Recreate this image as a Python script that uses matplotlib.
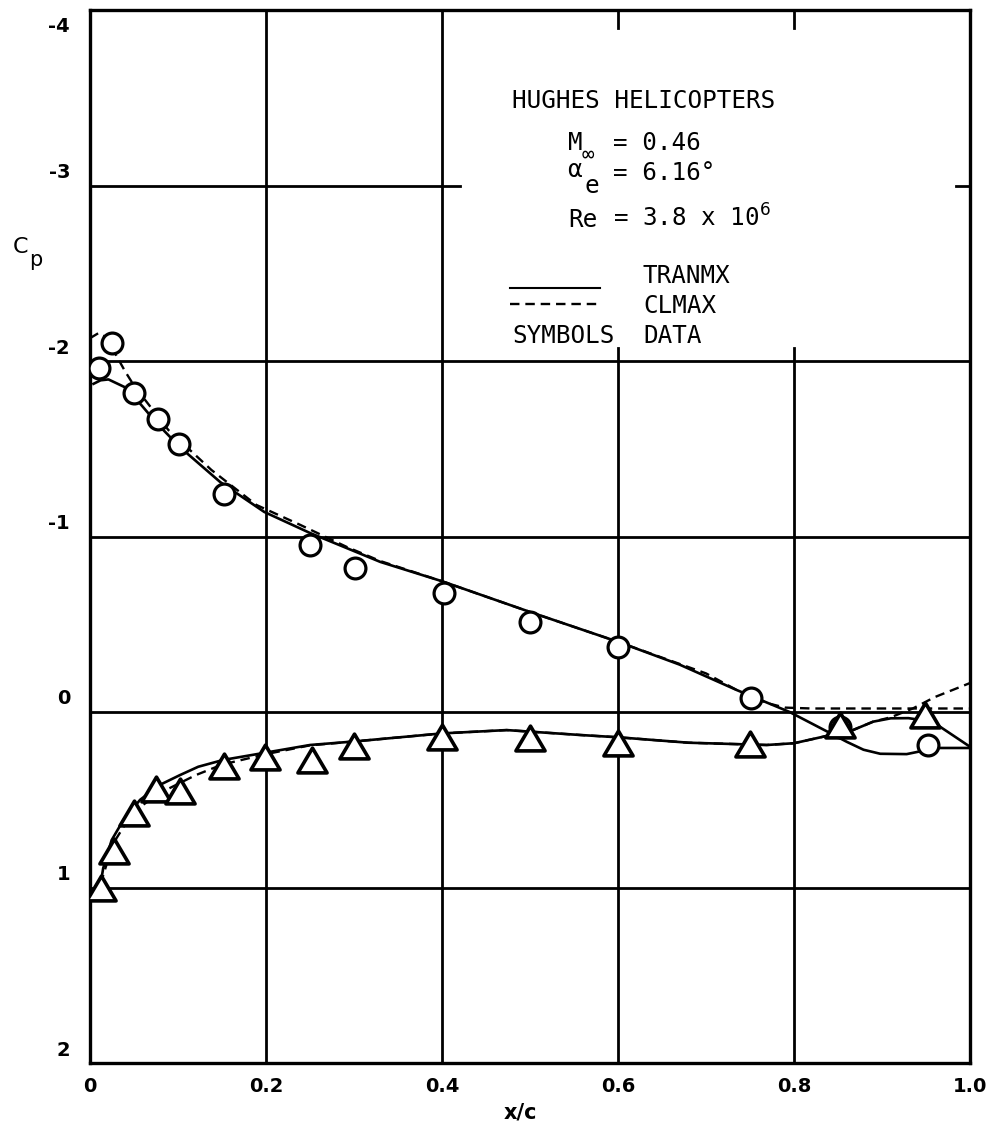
import matplotlib
matplotlib.use('Agg')
import matplotlib.pyplot as plt
from matplotlib.path import Path
from matplotlib.markers import MarkerStyle
from matplotlib.transforms import ScaledTranslation

# ---------------- data ----------------
x_ticks = [0, 0.2, 0.4, 0.6, 0.8, 1.0]
x_tick_labels = ['0', '0.2', '0.4', '0.6', '0.8', '1.0']
y_ticks = [-4, -3, -2, -1, 0, 1, 2]
y_tick_labels = ['-4', '-3', '-2', '-1', '0', '1', '2']

# experimental data, upper surface (circles)
x_upper_data = [0.010, 0.025, 0.050, 0.077, 0.101, 0.152, 0.250, 0.301,
                0.402, 0.500, 0.600, 0.751, 0.852, 0.952]
cp_upper_data = [-1.96, -2.10, -1.82, -1.67, -1.525, -1.24, -0.95, -0.82,
                 -0.68, -0.515, -0.37, -0.08, 0.085, 0.19]

# experimental data, lower surface (triangles)
x_lower_data = [0.012, 0.027, 0.050, 0.075, 0.102, 0.152, 0.199, 0.252,
                0.300, 0.400, 0.500, 0.600, 0.750, 0.852, 0.949]
cp_lower_data = [1.00, 0.79, 0.575, 0.44, 0.45, 0.31, 0.255, 0.275,
                 0.195, 0.14, 0.15, 0.178, 0.182, 0.074, 0.017]

# TRANMX (solid)
x_tranmx_upper = [0.004, 0.012, 0.021, 0.042, 0.076, 0.102, 0.148, 0.198,
                  0.25, 0.33, 0.40, 0.50, 0.60, 0.67, 0.735, 0.795, 0.841,
                  0.86, 0.879, 0.898, 0.928, 0.962, 1.0]
cp_tranmx_upper = [-1.87, -1.89, -1.895, -1.845, -1.645, -1.51, -1.31, -1.14,
                   -1.02, -0.855, -0.745, -0.57, -0.40, -0.27, -0.125, 0.0, 0.12,
                   0.17, 0.215, 0.238, 0.24, 0.205, 0.205]
x_tranmx_lower = [0.012, 0.015, 0.0246, 0.038, 0.057, 0.0795, 0.102, 0.123,
                  0.1515, 0.199, 0.25, 0.30, 0.40, 0.4735, 0.557, 0.60, 0.68,
                  0.769, 0.80, 0.833, 0.867, 0.89, 0.91, 0.93, 0.95, 0.966, 1.0]
cp_tranmx_lower = [0.98, 0.89, 0.73, 0.615, 0.50, 0.415, 0.36, 0.312,
                   0.273, 0.232, 0.188, 0.168, 0.122, 0.103, 0.131, 0.144, 0.175,
                   0.188, 0.178, 0.141, 0.103, 0.055, 0.036, 0.035, 0.05, 0.084, 0.198]

# CLMAX (dashed)
x_clmax_upper = [0.0, 0.01, 0.02, 0.03, 0.04, 0.05, 0.089, 0.138, 0.189,
                 0.239, 0.292, 0.33, 0.40, 0.50, 0.60, 0.70, 0.735, 0.77,
                 0.79, 0.82, 0.90, 1.0]
cp_clmax_upper = [-2.13, -2.16, -2.13, -2.03, -1.94, -1.86, -1.607, -1.379, -1.18,
                  -1.066, -0.94, -0.86, -0.745, -0.57, -0.40, -0.22, -0.125, -0.05,
                  -0.025, -0.02, -0.02, -0.02]
x_clmax_lower = [0.012, 0.02, 0.03, 0.045, 0.06, 0.08, 0.10, 0.12, 0.15, 0.20,
                 0.25, 0.30, 0.40, 0.4735, 0.557, 0.60, 0.68, 0.769, 0.80, 0.833,
                 0.867, 0.89, 0.91, 0.935, 0.96, 1.0]
cp_clmax_lower = [0.98, 0.85, 0.72, 0.60, 0.53, 0.46, 0.41, 0.36, 0.30, 0.24,
                  0.19, 0.168, 0.122, 0.103, 0.131, 0.144, 0.175, 0.188, 0.178, 0.141,
                  0.103, 0.055, 0.03, -0.02, -0.085, -0.165]

# ---------------- figure ----------------
W, H = 1001, 1141
fig = plt.figure(figsize=(W / 100, H / 100), dpi=100)
ax = fig.add_axes([90 / W, 1 - 1063 / H, 880 / W, 1053 / H])
ax.set_xlim(0, 1.0)
ax.set_ylim(2, -4)

GRID_LW = 2.0
# grid (blanked behind the annotation block)
for yv in y_ticks[1:-1]:
    if yv == -3:
        ax.plot([0, 0.42], [yv, yv], color='black', lw=GRID_LW, zorder=1)
        ax.plot([0.984, 1.0], [yv, yv], color='black', lw=GRID_LW, zorder=1)
    else:
        ax.plot([0, 1.0], [yv, yv], color='black', lw=GRID_LW, zorder=1)
for xv in x_ticks[1:-1]:
    if xv in (0.6, 0.8):
        ax.plot([xv, xv], [-4, -3.9], color='black', lw=GRID_LW, zorder=1)
        ax.plot([xv, xv], [-2.075, 2], color='black', lw=GRID_LW, zorder=1)
    else:
        ax.plot([xv, xv], [-4, 2], color='black', lw=GRID_LW, zorder=1)

# curves
ax.plot(x_tranmx_upper, cp_tranmx_upper, color='black', lw=1.9, zorder=3)
ax.plot(x_tranmx_lower, cp_tranmx_lower, color='black', lw=1.9, zorder=3)
ax.plot(x_clmax_upper, cp_clmax_upper, color='black', lw=1.7, dashes=(4, 2.5), zorder=3)
ax.plot(x_clmax_lower, cp_clmax_lower, color='black', lw=1.7, dashes=(4, 2.5), zorder=3)

# data symbols
tri = MarkerStyle(Path([(0, 0.85), (-1, -0.85), (1, -0.85), (0, 0.85)],
                       [Path.MOVETO, Path.LINETO, Path.LINETO, Path.CLOSEPOLY]))
ax.plot(x_upper_data, cp_upper_data, linestyle='none', marker='o', ms=15,
        mew=2.3, mfc='white', mec='black', zorder=5)
ax.plot(x_lower_data, cp_lower_data, linestyle='none', marker=tri, ms=21,
        mew=2.6, mfc='white', mec='black', zorder=5)

# axes styling
for s in ax.spines.values():
    s.set_linewidth(2.4)
    s.set_color('black')
ax.set_xticks(x_ticks)
ax.set_xticklabels(x_tick_labels, fontsize=14, fontweight='bold', family='DejaVu Sans')
ax.set_yticks(y_ticks)
ax.set_yticklabels([])
ax.tick_params(axis='both', length=0)
ax.tick_params(axis='x', pad=10)

ytrans = ax.get_yaxis_transform()
for yv, lab in zip(y_ticks, y_tick_labels):
    dy = -17 if yv == -4 else 13
    ax.text(-0.0227, yv, lab, ha='right', va='center', fontsize=14,
            fontweight='bold', family='DejaVu Sans',
            transform=ytrans + ScaledTranslation(0, dy / 100, fig.dpi_scale_trans))

fig.text(520 / W, 1 - 1113 / H, 'x/c', ha='center', va='center', fontsize=15,
         fontweight='bold', family='DejaVu Sans')
fig.text(13 / W, 1 - 253 / H, 'C', ha='left', va='baseline',
         fontsize=16, family='DejaVu Sans')
fig.text(29 / W, 1 - 266 / H, 'p', ha='left', va='baseline',
         fontsize=15, family='DejaVu Sans')

# annotation block
mono = 'DejaVu Sans Mono'
fs = 17.5
def axfx(X):
    return (X - 90) / 880
def axfy(Y):
    return (1063 - Y) / 1053

def note(X, Y, s, size=fs):
    ax.text(axfx(X), axfy(Y), s, family=mono, fontsize=size,
            transform=ax.transAxes, va='baseline', ha='left')

note(512, 108, 'HUGHES HELICOPTERS')
note(568, 150, 'M')
note(582, 161, '∞', size=15)
note(613, 150, '= 0.46')
note(567, 177, 'α')
note(584, 193, 'e')
note(613, 180, '= 6.16°')
note(568, 227, 'Re')
note(613, 227, r'= 3.8 x 10$^{6}$')

ax.plot([axfx(510), axfx(600)], [axfy(288), axfy(288)], color='black', lw=1.5,
        transform=ax.transAxes, zorder=3)
ax.plot([axfx(510), axfx(597)], [axfy(304), axfy(304)], color='black', lw=1.7,
        dashes=(4, 2.5), transform=ax.transAxes, zorder=3)
note(643, 283, 'TRANMX')
note(643, 313, 'CLMAX')
note(512, 343, 'SYMBOLS')
note(643, 343, 'DATA')

fig.savefig('out.png', dpi=100, facecolor='white')
